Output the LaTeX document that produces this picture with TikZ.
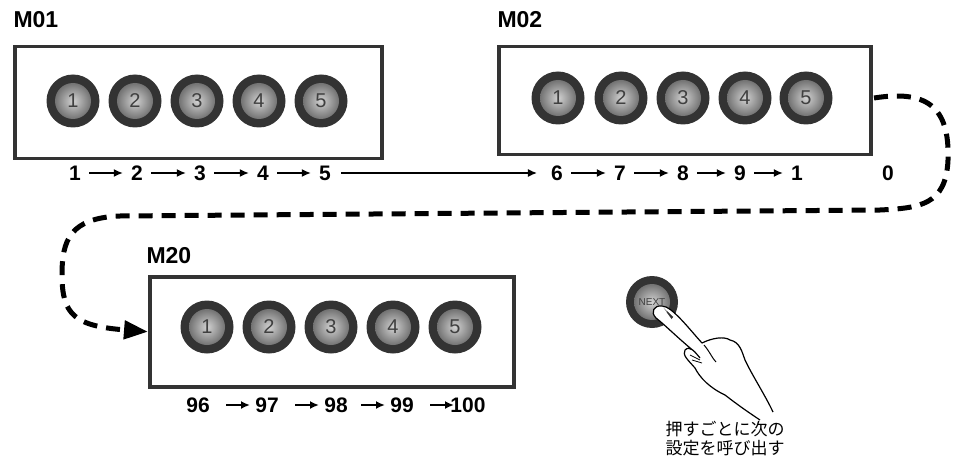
\documentclass[tikz,border=0pt]{standalone}
\usepackage{fontspec}
\setmainfont{Liberation Sans}
\newfontfamily\jp{Noto Sans CJK JP}
\usetikzlibrary{arrows.meta}
\begin{document}
\begin{tikzpicture}[x=1pt,y=-1pt,
  frame/.style={draw=black!80,line width=3.5pt},
  ttl/.style={font=\bfseries\fontsize{23}{23}\selectfont,anchor=west},
  num/.style={font=\bfseries\fontsize{21}{21}\selectfont,inner sep=2pt},
  arr/.style={-{Latex[length=9pt,width=8pt]},line width=1.8pt},
  btn/.style={circle,minimum size=53pt,fill=black!80,inner sep=0pt},
  btnin/.style={circle,minimum size=36pt,inner sep=0pt,inner color=black!18,outer color=black!55,text=black!75,font=\fontsize{20}{20}\selectfont}]
\useasboundingbox (0,0) rectangle (973,465);
\fill[white] (0,0) rectangle (973,465);
% boxes
\node[frame,minimum width=367pt,minimum height=112pt,anchor=north west] (b1) at (13,45) {};
\node[frame,minimum width=372pt,minimum height=108pt,anchor=north west] (b2) at (497,45) {};
\node[frame,minimum width=364pt,minimum height=110pt,anchor=north west] (b3) at (148,275) {};
\node[ttl] (t1) at (10,20) {M01};
\node[ttl] (t2) at (494,20) {M02};
\node[ttl] (t3) at (143,256) {M20};
% buttons
\foreach \i/\x in {1/73,2/135,3/197,4/259,5/321}{
  \node[btn] (a\i) at (\x,101) {}; \node[btnin] at (a\i) {\i};}
\foreach \i/\x in {1/558,2/621,3/683,4/745,5/806}{
  \node[btn] (c\i) at (\x,98) {}; \node[btnin] at (c\i) {\i};}
\foreach \i/\x in {1/207,2/269,3/331,4/393,5/455}{
  \node[btn] (d\i) at (\x,327) {}; \node[btnin] at (d\i) {\i};}
% row 1 numbers
\foreach \n/\x in {1/75,2/137,3/200,4/263,5/325,6/557,7/620,8/683,9/740,10/797,11/888}{
  \pgfmathtruncatemacro\lbl{\n>10 ? 0 : (\n==10 ? 1 : \n)}
  \node[num] (n\n) at (\x,173) {\lbl};}
\foreach \a/\b in {1/2,2/3,3/4,4/5,6/7,7/8,8/9,9/10}{\draw[arr,shorten <=6pt,shorten >=6pt] (n\a) -- (n\b);}
\draw[arr,line width=1.4pt,shorten <=8pt,shorten >=12pt] (n5) -- (n6);
% dashed path
\coordinate (s) at (874,98);
\draw[line width=5pt,dash pattern=on 14pt off 9pt,-{Triangle[length=24pt,width=18pt]}]
  (s) .. controls (925,90) and (950,105) .. (948,160)
  .. controls (946,205) and (920,208) .. (880,210)
  -- (120,216) .. controls (70,218) and (62,240) .. (62,275)
  .. controls (62,315) and (75,326) .. (b3.west);
% row 3
\node[num] (m96) at (198,405) {96};
\node[num] (m97) at (267,405) {97};
\node[num] (m98) at (336,405) {98};
\node[num] (m99) at (402,405) {99};
\node[num] (m100) at (468,405) {100};
\foreach \c/\x in {m97/226,m98/295,m99/361,m100/430}{
  \draw[arr] (\x,405) -- ++(24,0);}
% NEXT button
\node[btn,minimum size=52pt] (nx) at (652,302) {};
\node[btnin,minimum size=36pt,font=\fontsize{10}{10}\selectfont] at (nx) {NEXT};
% hand
\draw[line width=1.2pt,fill=white,line join=round]
  (662,306) .. controls (672,306) and (690,330) .. (702,343)
  .. controls (712,338) and (724,336) .. (730,340)
  .. controls (740,342) and (742,352) .. (745,360)
  .. controls (752,375) and (765,395) .. (773,412)
  (760,420) .. controls (745,410) and (738,405) .. (725,395)
  .. controls (710,388) and (700,378) .. (695,368)
  .. controls (688,360) and (682,355) .. (685,350)
  .. controls (690,345) and (695,352) .. (700,358)
  (695,352) .. controls (680,340) and (665,325) .. (656,318)
  .. controls (650,312) and (654,305) .. (662,306);
\draw[line width=1pt] (704,345) .. controls (710,352) and (712,358) .. (716,362);
\draw[line width=0.8pt] (690,355) -- (700,360) (692,360) -- (702,363);
\node[font=\jp\fontsize{17}{19}\selectfont,align=left,anchor=north west] (cap) at (662,418) {押すごとに次の\\設定を呼び出す};
\end{tikzpicture}
\end{document}
